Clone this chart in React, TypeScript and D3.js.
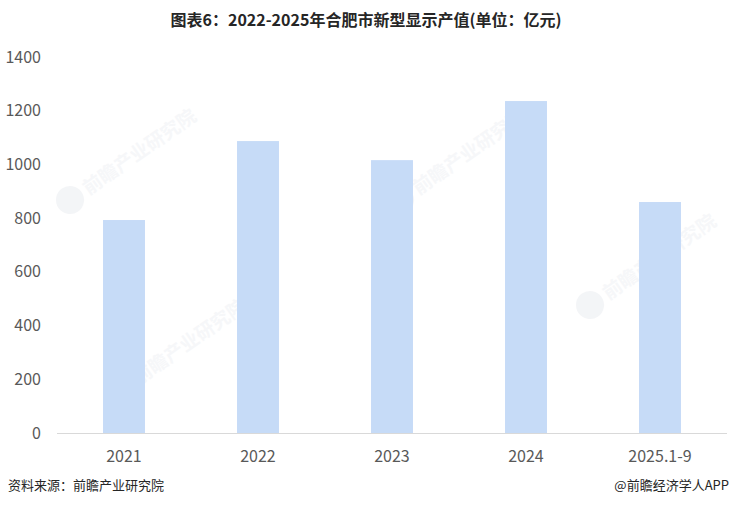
import React from "react";
import * as d3 from "d3";

const categories = ["2021", "2022", "2023", "2024", "2025.1-9"];
const values = [793, 1087, 1016, 1236, 860];
const yTicks = [0, 200, 400, 600, 800, 1000, 1200, 1400];
const titleText = "图表6：2022-2025年合肥市新型显示产值(单位：亿元)";
const sourceText = "资料来源：前瞻产业研究院";
const brandText = "@前瞻经济学人APP";
const watermarks = [
  { x: 70, y: 200 },
  { x: 400, y: 200 },
  { x: 120, y: 390 },
  { x: 590, y: 305 },
];

export default function App() {
  const W = 732;
  const H = 506;
  const x = d3.scaleBand<string>().domain(categories).range([57, 727]).paddingInner(0.687).paddingOuter(0.3435);
  const y = d3.scaleLinear().domain([0, 1400]).range([433, 57]);
  const font = "'Microsoft YaHei', 'Noto Sans CJK SC', 'Noto Sans', sans-serif";
  return (
    <svg width={W} height={H} style={{ position: "absolute", left: 0, top: 0, background: "#fff" }}>
      <rect width={W} height={H} fill="#fff" />
      {watermarks.map((w, i) => (
        <g key={i} transform={`translate(${w.x},${w.y}) rotate(-35)`} opacity={0.45}>
          <circle cx={0} cy={0} r={14} fill="#e6e9ee" />
          <text x={18} y={7} fontSize={19} fontWeight="bold" fill="#eceef2" fontFamily={font}>前瞻产业研究院</text>
        </g>
      ))}
      <text x={366} y={26} textAnchor="middle" fontSize={16} fontWeight="bold" fill="#262626" fontFamily={font}>
        {titleText}
      </text>
      {yTicks.map((t) => (
        <text key={t} x={41} y={y(t)} dy="0.35em" textAnchor="end" fontSize={16} fill="#595959" fontFamily={font}>
          {t}
        </text>
      ))}
      {categories.map((c, i) => (
        <rect key={c} x={x(c)} y={y(values[i])} width={x.bandwidth()} height={y(0) - y(values[i])} fill="#c6dbf7" />
      ))}
      <line x1={57} x2={727} y1={y(0) + 0.5} y2={y(0) + 0.5} stroke="#d9d9d9" strokeWidth={1} />
      {categories.map((c) => (
        <text key={c} x={(x(c) as number) + x.bandwidth() / 2} y={456} dy="0.35em" textAnchor="middle" fontSize={16} fill="#595959" fontFamily={font}>
          {c}
        </text>
      ))}
      <text x={8} y={490} fontSize={13} fill="#262626" fontFamily={font}>{sourceText}</text>
      <text x={729} y={490} textAnchor="end" fontSize={13} fill="#262626" fontFamily={font}>{brandText}</text>
    </svg>
  );
}
